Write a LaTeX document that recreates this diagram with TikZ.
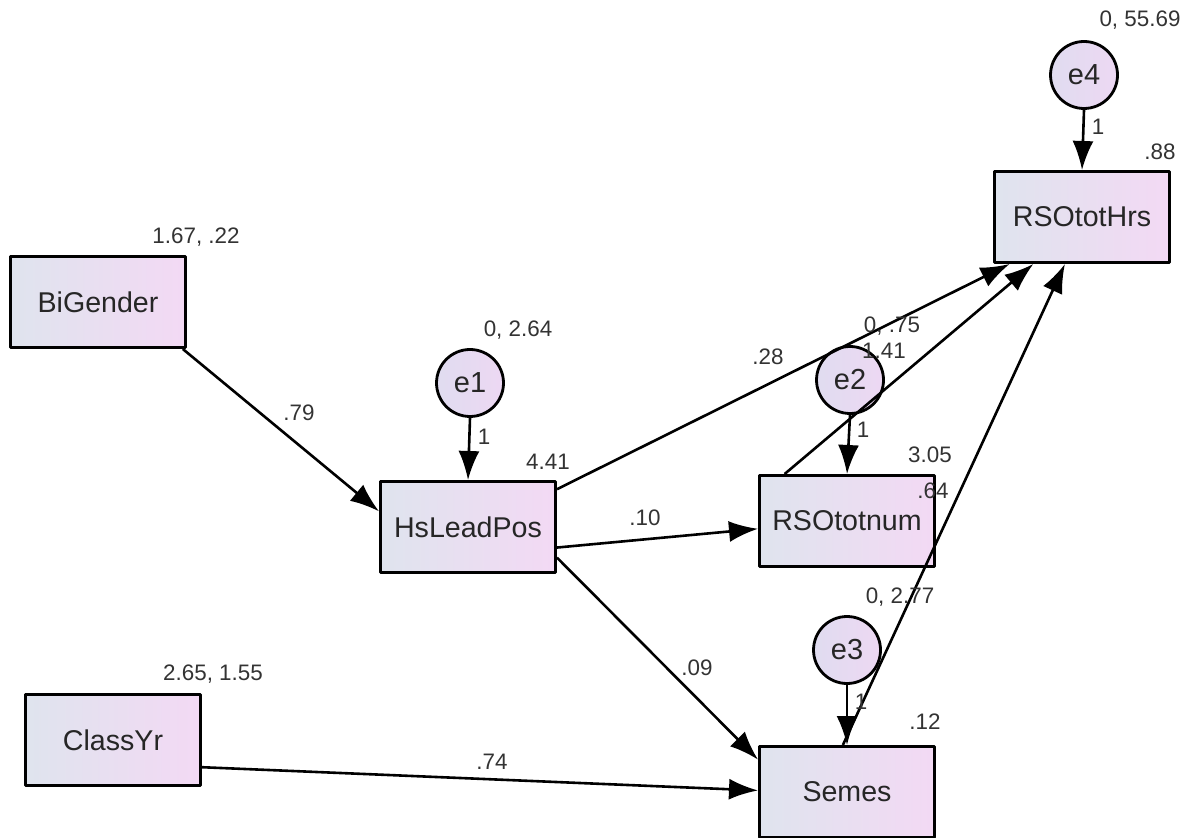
\documentclass[tikz,border=0pt]{standalone}
\usepackage{fontspec}
\setmainfont{Liberation Sans}
\usetikzlibrary{arrows.meta}
\definecolor{boxL}{HTML}{DFE4EE}
\definecolor{boxR}{HTML}{F3D9F4}
\definecolor{errL}{HTML}{E0DCF0}
\definecolor{errR}{HTML}{EDD8F3}
\definecolor{estgray}{HTML}{333333}

\begin{document}
\begin{tikzpicture}[x=0.5pt, y=-0.5pt, line join=round,
    obs/.style={draw, line width=1.5pt, left color=boxL, right color=boxR,
        minimum width=87.5pt, minimum height=45.5pt, inner sep=0pt,
        text=black!85, font=\fontsize{14.3}{16}\selectfont},
    err/.style={circle, draw, line width=1.4pt, left color=errL, right color=errR,
        minimum size=33.5pt, inner sep=0pt,
        text=black!85, font=\fontsize{14.5}{16}\selectfont},
    reg/.style={-{Latex[length=14.5pt, width=10.5pt]}, line width=1.3pt},
    est/.style={text=estgray, inner sep=0pt, font=\fontsize{11.2}{13}\selectfont}]

    \useasboundingbox (0,0) rectangle (1192,838);

    % Observed variables
    \node[obs] (BiGender)  at (98, 302)  {BiGender};
    \node[obs] (ClassYr)   at (113, 740) {ClassYr};
    \node[obs] (HsLeadPos) at (468, 527) {HsLeadPos};
    \node[obs] (RSOtotnum) at (847, 521) {RSOtotnum};
    \node[obs] (Semes)     at (847, 792) {Semes};
    \node[obs] (RSOtotHrs) at (1082, 217) {RSOtotHrs};

    % Error terms
    \node[err] (e1) at (470, 383)  {e1};
    \node[err] (e2) at (850, 380)  {e2};
    \node[err] (e3) at (847, 650)  {e3};
    \node[err] (e4) at (1084, 75)  {e4};

    % Error paths (fixed at 1)
    \draw[reg] (e1.south) -- (HsLeadPos.north);
    \draw[reg] (e2.south) -- (RSOtotnum.north);
    \draw[reg] (e3.south) -- (Semes.north);
    \draw[reg] (e4.south) -- (RSOtotHrs.north);

    % Regression paths
    \draw[reg] (BiGender.-29)  -- (HsLeadPos.170);
    \draw[reg] (HsLeadPos.23)  -- (RSOtotHrs.213);
    \draw[reg] (HsLeadPos.-13) -- (RSOtotnum.185);
    \draw[reg] (HsLeadPos.-19) -- (Semes.160);
    \draw[reg] (ClassYr.-17)   -- (Semes.179);
    \draw[reg] (RSOtotnum.143) -- (RSOtotHrs.224);
    \draw[reg] (Semes.95)      -- (RSOtotHrs.250);

    % Means, variances and intercepts
    \node[est] (mBiGender)  at (196, 237)  {1.67, .22};
    \node[est] (mClassYr)   at (213, 674)  {2.65, 1.55};
    \node[est] (ve1)        at (518, 330)  {0, 2.64};
    \node[est] (ve2)        at (892, 326)  {0, .75};
    \node[est] (ve3)        at (900, 597)  {0, 2.77};
    \node[est] (ve4)        at (1140, 20)  {0, 55.69};
    \node[est] (iHsLeadPos) at (548, 462)  {4.41};
    \node[est] (iRSOtotnum) at (930, 455)  {3.05};
    \node[est] (iSemes)     at (925, 722)  {.12};
    \node[est] (iRSOtotHrs) at (1160, 152) {.88};

    % Path weights
    \node[est] (w1)  at (484, 437) {1};
    \node[est] (w2)  at (863, 430) {1};
    \node[est] (w3)  at (861, 702) {1};
    \node[est] (w4)  at (1098, 127) {1};
    \node[est] (b79) at (299, 413) {.79};
    \node[est] (b28) at (768, 357) {.28};
    \node[est] (b10) at (645, 518) {.10};
    \node[est] (b09) at (697, 668) {.09};
    \node[est] (b74) at (492, 762) {.74};
    \node[est] (b141) at (884, 351) {1.41};
    \node[est] (b64) at (933, 491) {.64};

\end{tikzpicture}
\end{document}
